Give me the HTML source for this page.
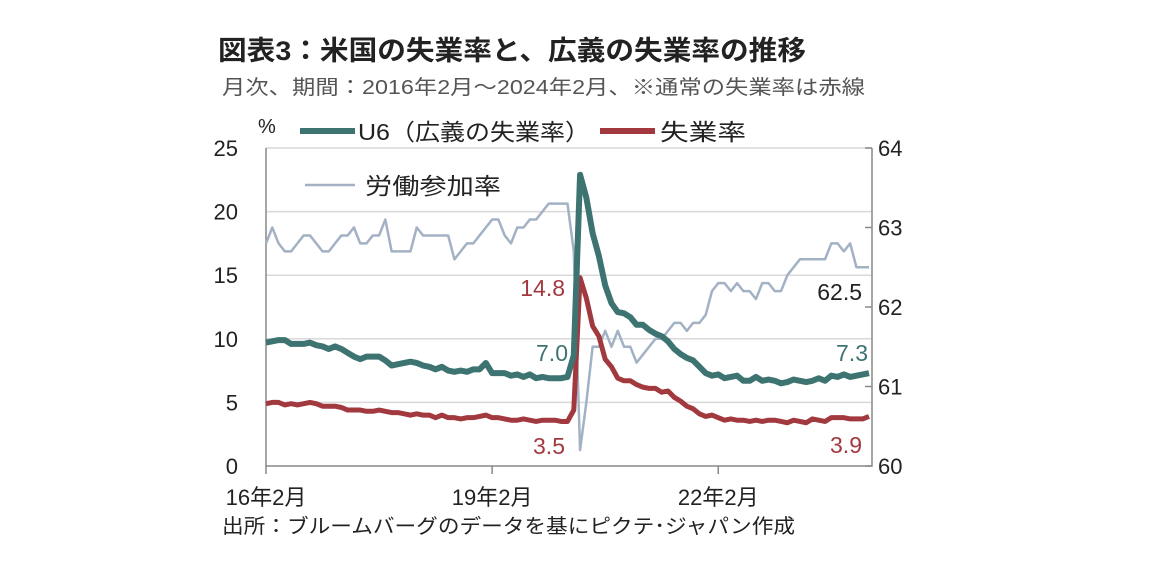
<!DOCTYPE html>
<html><head><meta charset="utf-8"><style>
body{margin:0;background:#fff;width:1152px;height:580px;overflow:hidden}
svg{font-family:"Liberation Sans","Noto Sans CJK JP",sans-serif}
</style></head><body>
<svg id="c" width="1152" height="580">
<text x="218" y="60" font-size="27" font-weight="bold" fill="#222" textLength="588" lengthAdjust="spacingAndGlyphs">図表3：米国の失業率と、広義の失業率の推移</text>
<text x="222" y="94" font-size="20" fill="#555" textLength="643" lengthAdjust="spacingAndGlyphs">月次、期間：2016年2月～2024年2月、※通常の失業率は赤線</text>
<text x="258" y="133" font-size="20" fill="#222">%</text>
<line x1="300" y1="131" x2="355" y2="131" stroke="#3d7371" stroke-width="6"/>
<text x="358" y="140" font-size="23" fill="#222" textLength="232" lengthAdjust="spacingAndGlyphs">U6（広義の失業率）</text>
<line x1="600" y1="131" x2="655" y2="131" stroke="#a2393f" stroke-width="6"/>
<text x="660" y="140" font-size="23" fill="#222" textLength="86" lengthAdjust="spacingAndGlyphs">失業率</text>
<line x1="305" y1="185" x2="355" y2="185" stroke="#a3b1c4" stroke-width="2.5"/>
<text x="365" y="194" font-size="23" fill="#222" textLength="136" lengthAdjust="spacingAndGlyphs">労働参加率</text>
<text x="222" y="533" font-size="20" fill="#222" textLength="573" lengthAdjust="spacingAndGlyphs">出所：ブルームバーグのデータを基にピクテ･ジャパン作成</text>
<g id="g"></g>
</svg>
<script>
const xLabels=["16年2月","19年2月","22年2月"];
const xLabelIdx=[0,36,72];
const leftTicks=[0,5,10,15,20,25];
const rightTicks=[60,61,62,63,64];
const u6=[9.7,9.8,9.9,9.9,9.6,9.6,9.6,9.7,9.5,9.4,9.2,
9.4,9.2,8.9,8.6,8.4,8.6,8.6,8.6,8.3,7.9,8.0,8.1,
8.2,8.1,7.9,7.8,7.6,7.8,7.5,7.4,7.5,7.4,7.6,7.6,
8.1,7.3,7.3,7.3,7.1,7.2,7.0,7.2,6.9,7.0,6.9,6.9,
6.9,7.0,8.7,22.9,21.1,18.3,16.5,14.2,12.8,12.1,12.0,11.7,
11.1,11.1,10.7,10.4,10.2,9.8,9.2,8.8,8.5,8.3,7.8,7.3,
7.1,7.2,6.9,7.0,7.1,6.7,6.7,7.0,6.7,6.8,6.7,6.5,
6.6,6.8,6.7,6.6,6.7,6.9,6.7,7.1,7.0,7.2,7.0,7.1,
7.2,7.3];
const u3=[4.9,5.0,5.0,4.8,4.9,4.8,4.9,5.0,4.9,4.7,4.7,
4.7,4.6,4.4,4.4,4.4,4.3,4.3,4.4,4.3,4.2,4.2,4.1,
4.0,4.1,4.0,4.0,3.8,4.0,3.8,3.8,3.7,3.8,3.8,3.9,
4.0,3.8,3.8,3.7,3.6,3.6,3.7,3.6,3.5,3.6,3.6,3.6,
3.5,3.5,4.4,14.8,13.2,11.0,10.2,8.4,7.8,6.9,6.7,6.7,
6.4,6.2,6.1,6.1,5.8,5.9,5.4,5.1,4.7,4.5,4.1,3.9,
4.0,3.8,3.6,3.7,3.6,3.6,3.5,3.6,3.5,3.6,3.6,3.5,
3.4,3.6,3.5,3.4,3.7,3.6,3.5,3.8,3.8,3.8,3.7,3.7,
3.7,3.9];
const lfpr=[62.8,63.0,62.8,62.7,62.7,62.8,62.9,62.9,62.8,62.7,62.7,
62.8,62.9,62.9,63.0,62.8,62.8,62.9,62.9,63.1,62.7,62.7,62.7,
62.7,63.0,62.9,62.9,62.9,62.9,62.9,62.6,62.7,62.8,62.8,62.9,
63.0,63.1,63.1,62.9,62.8,63.0,63.0,63.1,63.1,63.2,63.3,63.3,
63.3,63.3,62.7,60.2,60.8,61.5,61.5,61.7,61.5,61.7,61.5,61.5,
61.3,61.4,61.5,61.6,61.6,61.7,61.8,61.8,61.7,61.8,61.8,61.9,
62.2,62.3,62.3,62.2,62.3,62.2,62.2,62.1,62.3,62.3,62.2,62.2,
62.4,62.5,62.6,62.6,62.6,62.6,62.6,62.8,62.8,62.7,62.8,62.5,
62.5,62.5];
const X0=266,X1=872,YB=466,YT=148;
const x=i=>X0+i*(X1-X0-3)/96;
const yl=v=>YB-(v/25)*(YB-YT);
const yr=v=>YB-((v-60)/4)*(YB-YT);
const g=document.getElementById('g');
const NS='http://www.w3.org/2000/svg';
function mk(t,a){const e=document.createElementNS(NS,t);for(const k in a)e.setAttribute(k,a[k]);g.appendChild(e);return e;}
leftTicks.forEach(v=>{
 if(v>0){const l=mk('line',{x1:X0,x2:X1,y1:yl(v),y2:yl(v),stroke:'#d9d9d9','stroke-width':1.5});
 
 }
 const t=mk('text',{x:238,y:yl(v)+8,'text-anchor':'end','font-size':22,fill:'#222'});t.textContent=v;
 
 
});
rightTicks.forEach(v=>{
 const tk=mk('line',{x1:X1,x2:X1-7,y1:yr(v),y2:yr(v),stroke:'#888','stroke-width':1.5});
 
 
 const t=mk('text',{x:878,y:yr(v)+8,'font-size':22,fill:'#222'});t.textContent=v;
 
 
});
const ax=mk('path',{d:`M${X0} ${YT}V${YB}H${X1}V${YT}`,fill:'none',stroke:'#888','stroke-width':1.5});


xLabels.forEach((s,k)=>{
 const xi=x(xLabelIdx[k]);
 const tk=mk('line',{x1:xi,x2:xi,y1:YB,y2:YB+8,stroke:'#888','stroke-width':1.5});
 
 
 const t=mk('text',{x:xi,y:505,'text-anchor':'middle','font-size':22,fill:'#222'});t.textContent=s;
 
 
});
function line(arr,f,col,w,name){
 const p=mk('polyline',{points:arr.map((v,i)=>x(i)+','+f(v)).join(' '),fill:'none',stroke:col,'stroke-width':w,'stroke-linejoin':'round'});
 
 
}
line(lfpr,yr,'#a3b1c4',2.5,'lfpr-line');
line(u3,yl,'#a2393f',5,'u3-line');
line(u6,yl,'#3d7371',6,'u6-line');
const anns=[["14.8",565,296,'#a2393f'],["7.0",568,361,'#3d7371'],["3.5",565,454,'#a2393f'],["62.5",862,300,'#222'],["7.3",868,361,'#3d7371'],["3.9",862,453,'#a2393f']];
anns.forEach(a=>{const t=mk('text',{x:a[1],y:a[2],'text-anchor':'end','font-size':23,fill:a[3]});t.textContent=a[0];
 
 });
</script>
</body></html>
